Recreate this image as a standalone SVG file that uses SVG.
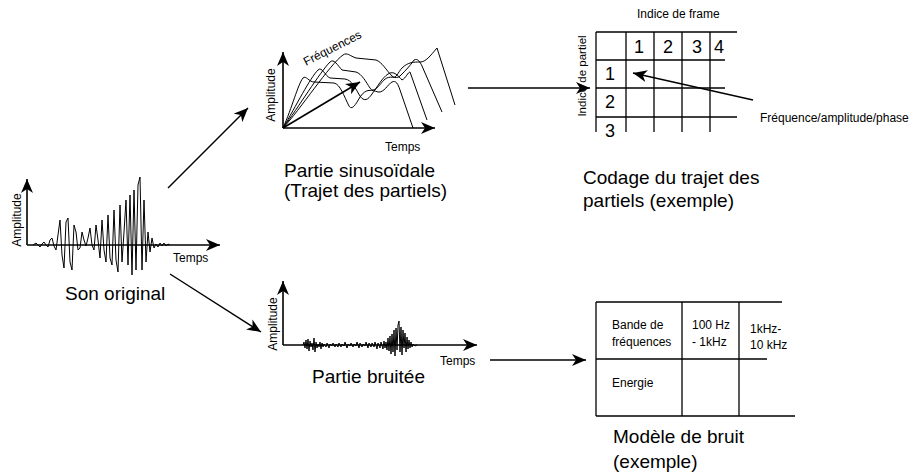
<svg xmlns="http://www.w3.org/2000/svg" width="915" height="474" viewBox="0 0 915 474">
<style>
text{font-family:"Liberation Sans",Arial,sans-serif;fill:#000}
.big{font-size:19px}
.sm{font-size:12px}
.num{font-size:18px}
.ax{stroke:#000;stroke-width:1.6;fill:none}
.wave{stroke:#000;stroke-width:1;fill:none;stroke-linejoin:round}
.grid{stroke:#000;stroke-width:1.3;fill:none}
.con{stroke:#000;stroke-width:1.4;fill:none}
</style>
<defs>
<marker id="ah" markerUnits="userSpaceOnUse" markerWidth="16" markerHeight="14" refX="14" refY="7" orient="auto">
<path d="M0,1 L14,7 L0,13 L4,7 Z" fill="#000"/>
</marker>
</defs>
<rect width="915" height="474" fill="#fff"/>

<g id="son-original">
<line class="ax" x1="27" y1="245" x2="27" y2="179" marker-end="url(#ah)"/>
<line class="ax" x1="27" y1="245" x2="220" y2="245" marker-end="url(#ah)"/>
<polyline class="wave" points="33,245 36,243 38,245 40,247 42,244 44,242 46,245 48,247 50,240 52,238 54,246 56,250 58,235 60,220 62,255 64,268 66,222 68,218 70,262 72,270 74,225 76,232 78,250 80,248 82,232 84,240 86,246 88,238 90,228 92,245 94,250 96,225 98,240 100,258 102,220 104,250 106,262 108,215 110,258 112,265 114,210 116,260 118,272 120,205 122,262 124,232 126,200 128,265 130,195 132,275 134,190 136,270 138,185 140,177 142,270 144,200 146,262 148,232 150,252 152,238 154,248 156,244 158,247 160,243 162,246 164,243 166,246 168,244 170,245"/>
<text class="sm" transform="translate(21,220) rotate(-90)" text-anchor="middle">Amplitude</text>
<text class="sm" x="173" y="262">Temps</text>
<text class="big" x="65" y="300">Son original</text>
</g>

<g id="partie-sinusoidale">
<line class="ax" x1="283" y1="128" x2="283" y2="52" marker-end="url(#ah)"/>
<line class="ax" x1="283" y1="128" x2="435" y2="128" marker-end="url(#ah)"/>
<path class="wave" d="M283,128 C292,108 298,84 303,78 C306,75 309,82 314,82 L334,83 C340,84 344,96 349,106 C352,111 356,104 360,97 C366,88 372,90 378,92 C384,93 388,84 392,82 C396,80 398,84 400,90 L413,128"/>
<path class="wave" d="M283,128 C296,106 310,78 318,70 C322,66 325,76 330,78 L345,79 C352,80 355,88 360,96 C364,102 368,100 372,94 C378,86 382,78 388,74 C394,70 398,76 402,80 C406,78 408,72 410,72 L427,120"/>
<path class="wave" d="M283,128 C298,108 320,72 330,62 C334,58 338,66 342,70 L356,72 C362,74 366,82 370,88 C374,94 380,84 384,80 C390,74 396,80 400,76 C406,70 410,66 414,60 C418,58 420,62 422,66 L442,112"/>
<path class="wave" d="M283,128 C300,110 330,64 343,55 C347,52 350,56 356,58 L376,60 C382,62 386,70 392,76 C396,80 398,72 402,68 C408,62 414,62 420,62 C426,62 430,56 437,48 L455,105"/>
<line class="ax" x1="283" y1="128" x2="360" y2="82" marker-end="url(#ah)"/>
<text class="sm" transform="translate(306,66) rotate(-27)">Fréquences</text>
<text class="sm" transform="translate(275,95) rotate(-90)" text-anchor="middle">Amplitude</text>
<text class="sm" x="385" y="151">Temps</text>
<text class="big" x="284" y="177">Partie sinusoïdale</text>
<text class="big" x="284" y="197">(Trajet des partiels)</text>
</g>

<g id="codage">
<line class="grid" x1="596" y1="32" x2="737" y2="32"/>
<line class="grid" x1="596" y1="60" x2="725" y2="60"/>
<line class="grid" x1="596" y1="88" x2="725" y2="88"/>
<line class="grid" x1="596" y1="117" x2="737" y2="117"/>
<line class="grid" x1="596" y1="32" x2="596" y2="132"/>
<line class="grid" x1="626" y1="32" x2="626" y2="132"/>
<line class="grid" x1="654" y1="32" x2="654" y2="132"/>
<line class="grid" x1="682" y1="32" x2="682" y2="132"/>
<line class="grid" x1="710" y1="32" x2="710" y2="132"/>
<text class="sm" x="637" y="18">Indice de frame</text>
<text class="sm" transform="translate(586,76) rotate(-90)" text-anchor="middle" style="font-size:11.5px">Indice de partiel</text>
<text class="num" x="634" y="53">1</text>
<text class="num" x="663" y="53">2</text>
<text class="num" x="692" y="53">3</text>
<text class="num" x="714" y="53">4</text>
<text class="num" x="605" y="80">1</text>
<text class="num" x="605" y="108">2</text>
<text class="num" x="605" y="137">3</text>
<line class="con" x1="753" y1="100" x2="633" y2="73" marker-end="url(#ah)"/>
<text class="sm" x="760" y="122">Fréquence/amplitude/phase</text>
<text class="big" x="583" y="184">Codage du trajet des</text>
<text class="big" x="583" y="207">partiels (exemple)</text>
</g>

<g id="partie-bruitee">
<line class="ax" x1="283" y1="345" x2="283" y2="281" marker-end="url(#ah)"/>
<line class="ax" x1="283" y1="345" x2="477" y2="345" marker-end="url(#ah)"/>
<polyline class="wave" points="303,345 304,342 305,348 306,340 307,349 308,339 309,351 310,341 311,347 312,343 313,350 314,338 315,352 316,342 317,348 318,344 319,347 320,342 321,349 322,343 323,347 324,344 326,347 327,343 329,348 330,344 332,346 333,343 335,347 336,344 338,347 339,343 341,347 342,344 344,346 345,342 347,348 348,344 350,346 351,343 353,347 354,344 356,346 357,342 359,348 360,343 362,347 363,344 365,346 366,342 368,348 369,343 371,347 372,343 374,347 375,342 377,349 378,343 380,348 381,342 383,349 384,341 385,348 386,342 387,350 388,338 389,351 390,336 391,354 392,334 393,352 394,330 395,356 396,328 397,350 398,325 399,321 400,352 401,327 402,355 403,330 404,348 405,333 406,352 407,337 408,349 409,340 410,348 411,342 412,347 413,344 415,346 417,345"/>
<text class="sm" transform="translate(277,324) rotate(-90)" text-anchor="middle">Amplitude</text>
<text class="sm" x="440" y="365">Temps</text>
<text class="big" x="312" y="383">Partie bruitée</text>
</g>

<g id="modele-bruit">
<line class="grid" x1="596" y1="302" x2="782" y2="302"/>
<line class="grid" x1="596" y1="359" x2="767" y2="359"/>
<line class="grid" x1="596" y1="416" x2="795" y2="416"/>
<line class="grid" x1="596" y1="302" x2="596" y2="416"/>
<line class="grid" x1="682" y1="302" x2="682" y2="416"/>
<line class="grid" x1="739" y1="302" x2="739" y2="416"/>
<text class="sm" x="612" y="329">Bande de</text>
<text class="sm" x="612" y="346">fréquences</text>
<text class="sm" x="692" y="329">100 Hz</text>
<text class="sm" x="692" y="346">- 1kHz</text>
<text class="sm" x="750" y="333">1kHz-</text>
<text class="sm" x="750" y="349">10 kHz</text>
<text class="sm" x="612" y="387">Energie</text>
<text class="big" x="613" y="443">Modèle de bruit</text>
<text class="big" x="613" y="468">(exemple)</text>
</g>

<g id="connectors">
<line class="con" x1="168" y1="188" x2="248" y2="108" marker-end="url(#ah)"/>
<line class="con" x1="170" y1="274" x2="261" y2="332" marker-end="url(#ah)"/>
<line class="con" x1="468" y1="88" x2="590" y2="88" marker-end="url(#ah)"/>
<line class="con" x1="490" y1="360" x2="586" y2="360" marker-end="url(#ah)"/>
</g>
</svg>
